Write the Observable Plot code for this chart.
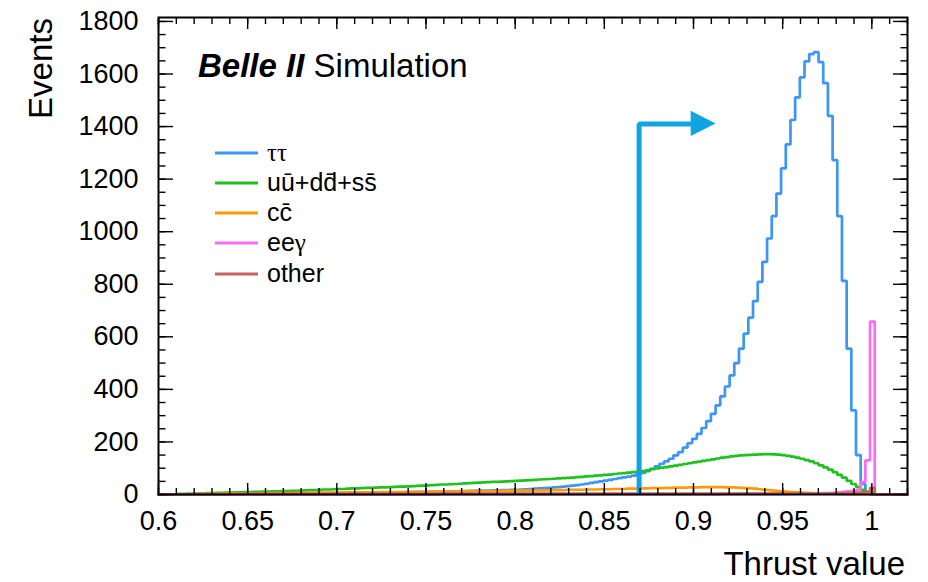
<!DOCTYPE html>
<html>
<head>
<meta charset="utf-8">
<script src="https://cdn.jsdelivr.net/npm/d3@7"></script>
<script src="https://cdn.jsdelivr.net/npm/@observablehq/plot@0.6"></script>
<style>
  html, body { margin: 0; padding: 0; background: #fff; }
  #chart { width: 928px; height: 582px; }
  svg { font-family: "Liberation Sans", Arial, Helvetica, sans-serif; }
</style>
</head>
<body>
<div id="chart"></div>
<script>
// ---- binning of the histograms ----
const xMin = 0.6, xMax = 1.02, nBins = 160;

// ---- series values (events per bin) ----
const tautau = [
  0,0,1,1,1,1,1,1,1,1,
  1,1,1,1,1,1,2,2,2,2,
  2,2,2,2,2,2,3,3,3,3,
  3,3,3,4,4,4,4,4,5,5,
  5,5,5,6,6,6,7,7,7,8,
  8,8,9,9,9,10,10,10,11,11,
  11,12,12,12,13,13,14,14,15,15,
  15,16,16,17,17,18,18,19,20,21,
  22,23,24,25,27,28,30,32,34,36,
  38,41,44,47,50,53,56,59,62,65,
  68,72,77,82,89,98,107,117,126,136,
  149,161,178,195,212,231,253,279,307,339,
  373,411,453,500,555,612,673,736,809,885,
  974,1059,1145,1241,1332,1425,1511,1587,1648,1676,
  1683,1645,1565,1441,1272,1059,813,555,320,150,
  40,8,0,0,0,0,0,0,0,0
];
const uds = [
  0,1,1,1,2,2,3,3,4,4,
  5,5,6,6,7,7,8,8,9,9,
  10,10,11,11,12,12,13,13,14,14,
  15,16,17,17,18,19,19,20,21,21,
  22,23,23,24,25,25,26,27,27,28,
  29,30,30,31,32,33,34,35,36,37,
  38,38,39,40,41,42,43,44,45,46,
  47,48,48,49,50,51,52,53,54,55,
  56,57,58,59,60,61,62,63,64,66,
  67,69,70,72,73,75,76,78,80,81,
  83,85,87,89,92,96,99,102,104,107,
  110,113,116,119,122,125,128,131,134,137,
  140,142,145,147,149,150,151,152,153,154,
  154,153,152,150,147,144,140,136,131,126,
  119,111,103,95,85,75,64,52,40,29,
  18,9,3,0,0,0,0,0,0,0
];
const ccbar = [
  0,0,1,1,1,1,1,1,2,2,
  2,2,2,2,3,3,3,3,3,4,
  4,4,4,4,5,5,5,5,5,6,
  6,6,6,6,7,7,7,7,7,7,
  8,8,8,8,8,8,9,9,9,9,
  9,9,9,10,10,10,10,10,11,11,
  11,11,11,12,12,12,12,13,13,13,
  13,13,14,14,14,14,15,15,15,15,
  16,16,16,16,17,17,17,18,18,18,
  18,19,19,19,20,20,20,21,21,21,
  22,22,22,23,23,24,24,24,25,25,
  26,26,26,27,27,27,28,28,28,28,
  28,27,27,26,25,24,23,22,20,18,
  17,15,13,12,10,9,8,7,6,5,
  4,4,3,3,2,2,2,1,1,1,
  1,1,1,0,0,0,0,0,0,0
];
const eegamma = [
  0,0,0,0,0,0,0,0,0,0,
  0,0,0,0,0,0,0,0,0,0,
  0,0,0,0,0,0,0,0,0,0,
  0,0,0,0,0,0,0,0,0,0,
  0,0,0,0,0,0,0,0,0,0,
  0,0,0,0,0,0,0,0,0,0,
  1,1,1,1,1,1,1,1,1,1,
  1,1,1,1,1,1,1,1,1,1,
  1,1,1,1,1,1,1,1,1,1,
  1,1,1,1,1,1,1,1,1,1,
  1,1,1,1,1,1,1,1,1,1,
  1,1,1,1,1,1,1,1,1,1,
  2,2,2,2,2,2,2,2,2,2,
  2,2,2,2,2,3,3,3,3,3,
  4,4,5,5,6,8,10,12,14,18,
  47,130,658,0,0,0,0,0,0,0
];
const other = [
  0,0,0,1,1,1,1,1,1,1,
  1,1,1,1,1,1,1,2,2,2,
  2,2,2,2,2,2,2,2,2,2,
  2,2,2,2,2,2,2,2,2,2,
  2,2,2,2,2,2,2,2,2,2,
  2,2,2,2,2,2,2,2,2,2,
  3,3,3,3,3,3,3,3,3,3,
  3,3,3,3,3,3,3,3,3,3,
  3,3,3,3,3,3,3,3,3,3,
  3,3,3,3,3,3,3,3,3,3,
  3,3,3,3,3,3,3,3,3,3,
  3,3,3,3,3,3,3,3,3,3,
  3,3,3,3,3,3,3,3,3,3,
  3,3,3,3,3,3,3,3,3,3,
  3,3,3,4,4,4,5,5,6,7,
  8,10,25,0,0,0,0,0,0,0
];

const seriesNames  = ["ττ", "uū+dd̄+ss̄", "cc̄", "eeγ", "other"];
const seriesColors = ["#3d96f5", "#1ec21e", "#ff9a05", "#fc6af8", "#c46363"];
const seriesValues = [tautau, uds, ccbar, eegamma, other];

// ---- axis ticks ----
const xMajorTicks = [0.6, 0.65, 0.7, 0.75, 0.8, 0.85, 0.9, 0.95, 1.0];
const xMinorTicks = d3.range(60, 103, 1).map(d => d / 100);
const yMajorTicks = [0, 200, 400, 600, 800, 1000, 1200, 1400, 1600, 1800];
const yMinorTicks = d3.range(0, 1801, 50);
const yMax = 1815;

// ---- selection cut arrow ----
const cutValue = 0.8695;
const arrowLevel = 1410;
const arrowShaftEnd = 0.8987;
const arrowTip = 0.9127;
const arrowHalfHeight = 48;

// ---- texts ----
const xTitle = "Thrust value";
const yTitle = "Events";

// build step outlines from bins
const binWidth = (xMax - xMin) / nBins;
const stepData = seriesValues.flatMap((vals, s) => {
  const pts = vals.map((v, i) => ({series: s, x: xMin + i * binWidth, y: v}));
  pts.push({series: s, x: xMax, y: vals[vals.length - 1]});
  return pts;
});

const arrowPath = [
  {x: cutValue, y: 0},
  {x: cutValue, y: arrowLevel},
  {x: arrowShaftEnd, y: arrowLevel}
];
const arrowHead = [
  {x: arrowShaftEnd, y1: arrowLevel - arrowHalfHeight, y2: arrowLevel + arrowHalfHeight},
  {x: arrowTip, y1: arrowLevel, y2: arrowLevel}
];

const fmtX = d => String(+d.toFixed(2));
const fmtY = d3.format("d");

const histMarks = seriesValues.map((vals, s) =>
  Plot.line(stepData.filter(d => d.series === s), {
    x: "x", y: "y", curve: "step-after",
    stroke: seriesColors[s], strokeWidth: 2.7, strokeLinejoin: "miter"
  })
);

const plot = Plot.plot({
  width: 928,
  height: 582,
  marginLeft: 158,
  marginRight: 21,
  marginTop: 17,
  marginBottom: 88,
  style: {fontFamily: "'Liberation Sans', Arial, Helvetica, sans-serif", background: "#fff", color: "#000"},
  x: {domain: [xMin, xMax]},
  y: {domain: [0, yMax]},
  marks: [
    ...histMarks,
    Plot.line(arrowPath, {x: "x", y: "y", stroke: "#10a4e2", strokeWidth: 5, strokeLinejoin: "miter", strokeLinecap: "butt"}),
    Plot.areaY(arrowHead, {x: "x", y1: "y1", y2: "y2", fill: "#10a4e2", curve: "linear"}),
    // inward ticks on all four sides
    Plot.axisX({anchor: "bottom", ticks: xMajorTicks, tickSize: -11, fill: "none", strokeWidth: 1.4}),
    Plot.axisX({anchor: "bottom", ticks: xMinorTicks, tickSize: -6, fill: "none", strokeWidth: 1.4}),
    Plot.axisX({anchor: "top", ticks: xMajorTicks, tickSize: -11, fill: "none", strokeWidth: 1.4}),
    Plot.axisX({anchor: "top", ticks: xMinorTicks, tickSize: -6, fill: "none", strokeWidth: 1.4}),
    Plot.axisY({anchor: "left", ticks: yMajorTicks, tickSize: -15, fill: "none", strokeWidth: 1.4}),
    Plot.axisY({anchor: "left", ticks: yMinorTicks, tickSize: -7.5, fill: "none", strokeWidth: 1.4}),
    Plot.axisY({anchor: "right", ticks: yMajorTicks, tickSize: -15, fill: "none", strokeWidth: 1.4}),
    Plot.axisY({anchor: "right", ticks: yMinorTicks, tickSize: -7.5, fill: "none", strokeWidth: 1.4}),
    // tick labels
    Plot.axisX({anchor: "bottom", ticks: xMajorTicks, tickSize: 0, tickPadding: 16, tickFormat: fmtX, fontSize: 27, label: null}),
    Plot.axisY({anchor: "left", ticks: yMajorTicks, tickSize: 0, tickPadding: 20, tickFormat: fmtY, fontSize: 27, label: null}),
    Plot.frame({stroke: "#000", strokeWidth: 2})
  ]
});

document.getElementById("chart").appendChild(plot);

// ---- annotations: axis titles, experiment label, legend ----
const svg = d3.select(plot);
svg.append("text")
  .attr("x", 905).attr("y", 575)
  .attr("text-anchor", "end")
  .attr("font-size", 33)
  .attr("fill", "#000")
  .text(xTitle);
svg.append("text")
  .attr("transform", "translate(52,18) rotate(-90)")
  .attr("text-anchor", "end")
  .attr("font-size", 33)
  .attr("fill", "#000")
  .text(yTitle);

const title = svg.append("text")
  .attr("x", 198).attr("y", 77)
  .attr("text-anchor", "start")
  .attr("font-size", 33)
  .attr("fill", "#000");
title.append("tspan").attr("font-weight", "bold").attr("font-style", "italic").text("Belle II");
title.append("tspan").text(" Simulation");

const legendY = [153, 183, 213, 243, 274];
const legend = svg.append("g").attr("text-anchor", "start");
seriesNames.forEach((name, i) => {
  legend.append("line")
    .attr("x1", 215).attr("x2", 258)
    .attr("y1", legendY[i]).attr("y2", legendY[i])
    .attr("stroke", seriesColors[i]).attr("stroke-width", 3);
  const t = legend.append("text")
    .attr("x", 267).attr("y", legendY[i]).attr("dy", "0.3em")
    .attr("text-anchor", "start")
    .attr("font-size", 25).attr("fill", "#000");
  if (i === 0) {
    t.append("tspan").attr("font-family", "'Liberation Serif', serif").text(name);
  } else if (i === 3) {
    t.append("tspan").text("ee");
    t.append("tspan").attr("font-family", "'Liberation Serif', serif").text("γ");
  } else {
    t.text(name);
  }
});
</script>
</body>
</html>
